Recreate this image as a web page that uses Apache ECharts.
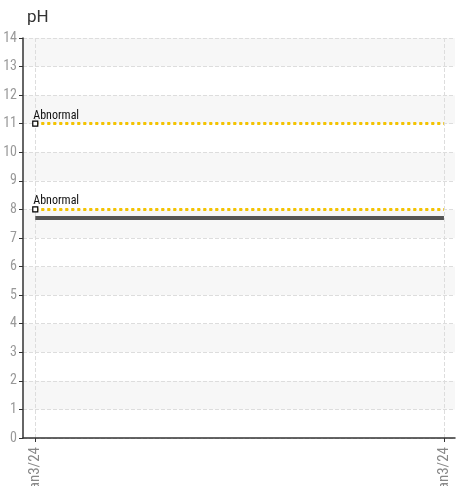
<!DOCTYPE html>
<html><head><meta charset="utf-8">
<script src="https://cdn.jsdelivr.net/npm/echarts@6/dist/echarts.min.js"></script>
<style>html,body{margin:0;padding:0;background:#fff}#c{width:458px;height:486px}</style>
</head><body><div id="c"></div>
<script>
const title = 'pH';
const categories = ['Jan3/24', 'Jan3/24'];
const xPositions = [0, 1];
const phValues = [7.7, 7.7];
const abnormalLevels = [11, 8];
const abnormalLabel = 'Abnormal';

const chart = echarts.init(document.getElementById('c'));
const font = "'Liberation Sans Narrow', 'Roboto Condensed', 'Roboto', sans-serif";
chart.setOption({
  animation: false,
  title: { text: title, left: 22, top: 4, textStyle: { fontSize: 17, fontWeight: 'normal', color: '#333', fontFamily: 'Roboto, sans-serif' } },
  grid: { left: 23, right: 3, top: 38, bottom: 48, containLabel: false, outerBoundsMode: 'none' },
  xAxis: {
    type: 'value', min: -0.03, max: 1.027,
    axisLine: { show: true, onZero: false, lineStyle: { color: '#333', width: 1.5 } },
    axisTick: { show: true, customValues: xPositions, length: 4, lineStyle: { color: '#333' } },
    axisLabel: { customValues: xPositions, rotate: 90, color: '#888', fontSize: 15, fontFamily: font, margin: 9,
      formatter: v => categories[xPositions.indexOf(Math.round(v))] || '' },
    splitLine: { show: true, lineStyle: { type: 'dashed', color: '#ddd' } }
  },
  yAxis: {
    type: 'value', min: 0, max: 14, interval: 1,
    axisLine: { show: true, onZero: false, lineStyle: { color: '#333', width: 1.5 } },
    axisTick: { show: true, length: 4, lineStyle: { color: '#333' } },
    axisLabel: { color: '#999', fontSize: 14, fontFamily: font, margin: 6 },
    splitLine: { show: true, lineStyle: { type: 'dashed', color: '#ddd' } },
    splitArea: { show: true, areaStyle: { color: ['#ffffff', '#f7f7f7'] } }
  },
  series: [{
    type: 'line',
    data: xPositions.map((x, i) => [x, phValues[i]]),
    showSymbol: false,
    lineStyle: { color: '#555', width: 4 },
    markLine: {
      silent: true,
      symbol: ['none', 'none'],
      lineStyle: { type: 'dotted', color: '#f5c400', width: 3 },
      label: { show: true, position: 'insideStartTop', formatter: abnormalLabel, color: '#111', fontSize: 12, fontFamily: font, distance: [-2, 2] },
      data: abnormalLevels.map(v => [{ coord: [xPositions[0], v] }, { coord: [xPositions[xPositions.length - 1], v] }])
    },
    markPoint: {
      silent: true,
      symbol: 'rect',
      symbolSize: 5,
      itemStyle: { color: '#fff', borderColor: '#000', borderWidth: 1.2 },
      label: { show: false },
      data: abnormalLevels.map(v => ({ coord: [xPositions[0], v] }))
    }
  }]
});
</script></body></html>
